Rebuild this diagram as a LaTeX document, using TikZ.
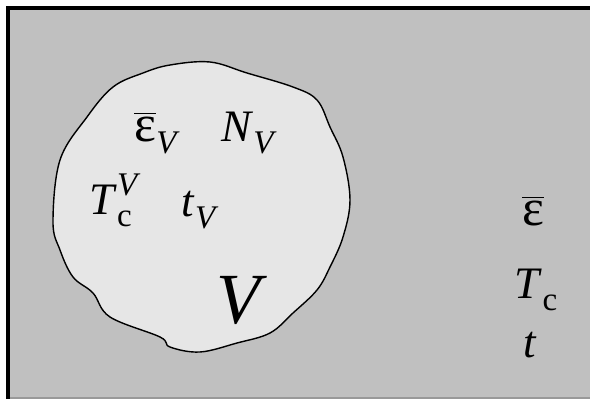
\documentclass[tikz,border=0pt]{standalone}
\usepackage{amsmath}
\usepackage{fontspec}
\setmainfont{Liberation Serif}
\usetikzlibrary{positioning}
\definecolor{mPanel}{HTML}{C0C0C0}
\definecolor{mBlob}{HTML}{E6E6E6}
\newcommand{\lowidx}[1]{\raisebox{-0.27em}{\fontsize{33}{36}\selectfont #1}}
\newcommand{\highidx}[1]{\raisebox{0.42em}{\fontsize{33}{36}\selectfont #1}}
\newcommand{\ebar}{{\fontsize{52}{56}\selectfont$\overline{\text{ε}}$}}

\begin{document}
\begin{tikzpicture}[x=1pt, y=-1pt,
    qty/.style={inner sep=0pt, font=\fontsize{45}{50}\selectfont},
    bigvol/.style={inner sep=0pt, font=\fontsize{72}{80}\selectfont}]
    \useasboundingbox (0,0) rectangle (590,399);
    \fill[white] (0,0) rectangle (590,399);
    \fill[mPanel] (8,8) rectangle (590,399);
    \draw[gray!80, line width=1.5pt] (10,398) -- (590,398);
    \draw[black, line width=4pt] (8,399) -- (8,8) -- (590,8);
    % the subvolume
    \draw[fill=mBlob, line width=1.4pt] plot[smooth cycle, tension=0.6] coordinates {
      (143,73) (170,65) (210,62) (247,73) (293,87) (317,100) (330,127)
      (343,157) (350,200) (343,237) (330,267) (317,290) (293,313) (270,333)
      (237,343) (200,352) (170,347) (160,337) (110,317) (93,293) (73,277)
      (60,250) (53,222) (60,160) (87,117) (113,87)};
    \node[qty] (epsv) at (157,133) {\ebar\lowidx{\textit{V}}};
    \node[qty] (nv) at (249,133) {\textit{N}\lowidx{\textit{V}}};
    \node[qty] (tcv) at (115,200) {\textit{T}\rlap{\lowidx{c}}\highidx{\textit{V}}};
    \node[qty] (tv) at (200,210) {\textit{t}\lowidx{\textit{V}}};
    \node[bigvol] (vol) at (242,300) {\textit{V}};
    % whole system
    \node[qty] (eps) at (533,211) {\ebar};
    \node[qty] (tc) at (536,290) {\textit{T}\lowidx{c}};
    \node[qty] (t) at (530,345) {\textit{t}};
\end{tikzpicture}
\end{document}
